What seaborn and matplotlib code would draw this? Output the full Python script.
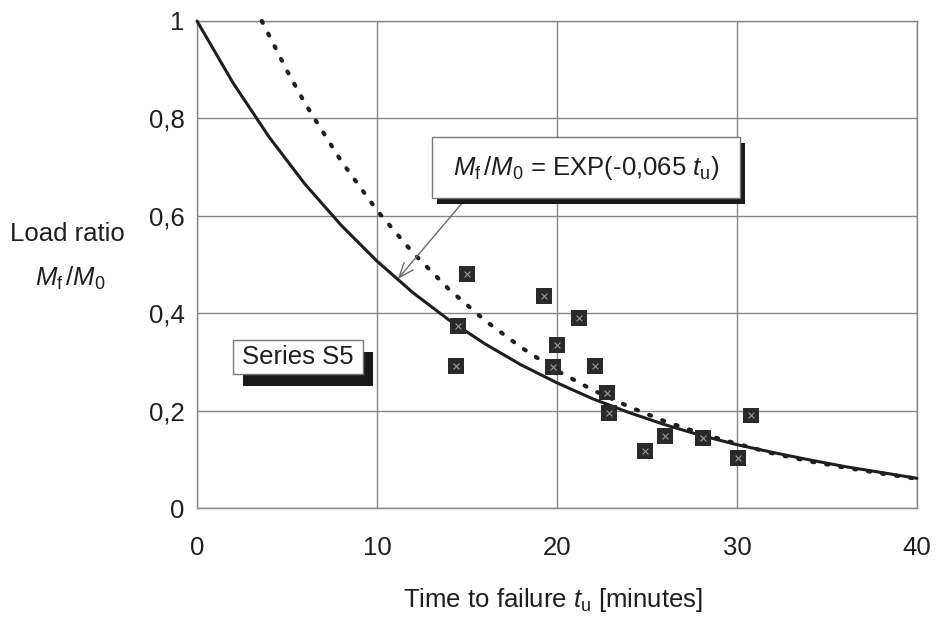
import matplotlib
matplotlib.use("Agg")
import matplotlib.pyplot as plt
import seaborn as sns
import pandas as pd
from matplotlib.patches import Rectangle

# ---- data ----
# measured points, series S5 (time to failure [min], load ratio)
t_points = [14.5, 14.4, 15.0, 19.3, 21.2, 20.0, 19.8, 22.1, 22.8, 22.9,
            24.9, 26.0, 28.1, 30.05, 30.8]
ratio_points = [0.373, 0.292, 0.480, 0.436, 0.390, 0.334, 0.289, 0.292, 0.237, 0.195,
                0.117, 0.148, 0.144, 0.102, 0.190]

# solid fitted curve M_f/M_0 = EXP(-0,065 t_u)
t_solid = [0, 2, 4, 6, 8, 10, 12, 14, 16, 18, 20, 22, 24, 26, 28, 30, 32, 34, 36, 38, 40]
ratio_solid = [1.0, 0.873, 0.762, 0.665, 0.581, 0.507, 0.442, 0.386, 0.337, 0.294,
               0.257, 0.224, 0.196, 0.171, 0.149, 0.130, 0.114, 0.099, 0.085, 0.073,
               0.061]

# dotted curve, values
t_dotted = [3.6, 5, 6, 8, 10, 12, 14, 16, 18, 20, 22, 24, 26, 28, 30, 32, 34, 36, 38, 40]
ratio_dotted = [1.0, 0.898, 0.831, 0.713, 0.611, 0.524, 0.449, 0.385, 0.330, 0.282,
                0.242, 0.208, 0.178, 0.153, 0.132, 0.112, 0.096, 0.083, 0.071, 0.060]

x_ticks = [0, 10, 20, 30, 40]
x_tick_labels = ["0", "10", "20", "30", "40"]
y_ticks = [0, 0.2, 0.4, 0.6, 0.8, 1.0]
y_tick_labels = ["0", "0,2", "0,4", "0,6", "0,8", "1"]

# ---- style ----
sns.set_theme(style="white")
plt.rcParams["font.family"] = ["Liberation Sans", "DejaVu Sans"]
plt.rcParams["mathtext.fontset"] = "custom"
plt.rcParams["mathtext.rm"] = "Liberation Sans"
plt.rcParams["mathtext.it"] = "Liberation Sans:italic"
plt.rcParams["mathtext.default"] = "regular"

FS = 18.5
INK = "#1e1e1e"
GRID = "#858585"

M_RATIO = r"$\mathit{M}_{\mathrm{f}}\,/\mathit{M}_{\mathrm{0}}$"

fig = plt.figure(figsize=(9.4, 6.3), dpi=100)
fig.patch.set_facecolor("white")
ax = fig.add_axes([197 / 940, 1 - 508 / 630, 720 / 940, 487 / 630])
ax.set_facecolor("white")

df_solid = pd.DataFrame({"t": t_solid, "r": ratio_solid})
df_dot = pd.DataFrame({"t": t_dotted, "r": ratio_dotted})
df_pts = pd.DataFrame({"t": t_points, "r": ratio_points})

sns.lineplot(data=df_solid, x="t", y="r", ax=ax, color=INK, lw=2.2,
             sort=False, estimator=None, zorder=4, clip_on=False)
sns.lineplot(data=df_dot, x="t", y="r", ax=ax, color=INK, lw=3.0,
             linestyle=(0, (0.5, 2.9)), sort=False, estimator=None, zorder=4,
             clip_on=False, dash_capstyle="round")
sns.scatterplot(data=df_pts, x="t", y="r", ax=ax, marker="s", s=130,
                color="#2a2a2a", edgecolor="none", zorder=5, linewidth=0)
sns.scatterplot(data=df_pts, x="t", y="r", ax=ax, marker="x", s=18,
                color="#9a9a9a", zorder=6, linewidth=0.8)

ax.set_xlim(0, 40)
ax.set_ylim(0, 1)
ax.set_xticks(x_ticks)
ax.set_xticklabels(x_tick_labels)
ax.set_yticks(y_ticks)
ax.set_yticklabels(y_tick_labels)
ax.grid(True, color=GRID, lw=1.0)
for s in ax.spines.values():
    s.set_color(GRID)
    s.set_linewidth(1.0)
ax.tick_params(axis="both", direction="inout", length=8, width=1, color=GRID,
               labelsize=FS, labelcolor=INK)
ax.tick_params(axis="x", pad=16)
ax.tick_params(axis="y", pad=5)
ax.set_xlabel("")
ax.set_ylabel("")

# axis titles
fig.text(10 / 940, 1 - 234 / 630, "Load ratio", fontsize=FS, color=INK,
         ha="left", va="center")
fig.text(70 / 940, 1 - 278 / 630, M_RATIO, fontsize=FS,
         color=INK, ha="center", va="center")
fig.text(553 / 940, 1 - 600 / 630,
         r"Time to failure $\mathit{t}_{\mathrm{u}}$ [minutes]",
         fontsize=FS, color=INK, ha="center", va="center")


def px_to_ax(px, py):
    return (px - 197) / 720, (508 - py) / 487


def shadow_box(x0, y0, x1, y1, dx, dy, text, fs):
    ax0, ay1 = px_to_ax(x0, y0)
    ax1, ay0 = px_to_ax(x1, y1)
    sx0, sy1 = px_to_ax(x0 + dx, y0 + dy)
    sx1, sy0 = px_to_ax(x1 + dx, y1 + dy)
    ax.add_patch(Rectangle((sx0, sy0), sx1 - sx0, sy1 - sy0, transform=ax.transAxes,
                           facecolor="#1a1a1a", edgecolor="none", zorder=7,
                           clip_on=False))
    ax.add_patch(Rectangle((ax0, ay0), ax1 - ax0, ay1 - ay0, transform=ax.transAxes,
                           facecolor="white", edgecolor="#777777", lw=1.0, zorder=8,
                           clip_on=False))
    ax.text((ax0 + ax1) / 2, (ay0 + ay1) / 2, text, transform=ax.transAxes,
            fontsize=fs, color=INK, ha="center", va="center", zorder=9)


# arrow from equation box to the solid curve
ax.annotate("", xy=(11.15, 0.470), xytext=(14.7, 0.625),
            arrowprops=dict(arrowstyle="->,head_length=0.9,head_width=0.35",
                            color="#6a6a6a", lw=1.0, shrinkA=0, shrinkB=0),
            zorder=6)

shadow_box(432, 137, 740, 198, 5, 6,
           M_RATIO + r" = EXP(-0,065 $\mathit{t}_{\mathrm{u}}$)", FS)
shadow_box(233, 340, 363, 374, 10, 12, "Series S5", FS)

fig.savefig("out.png", dpi=100, facecolor="white")
